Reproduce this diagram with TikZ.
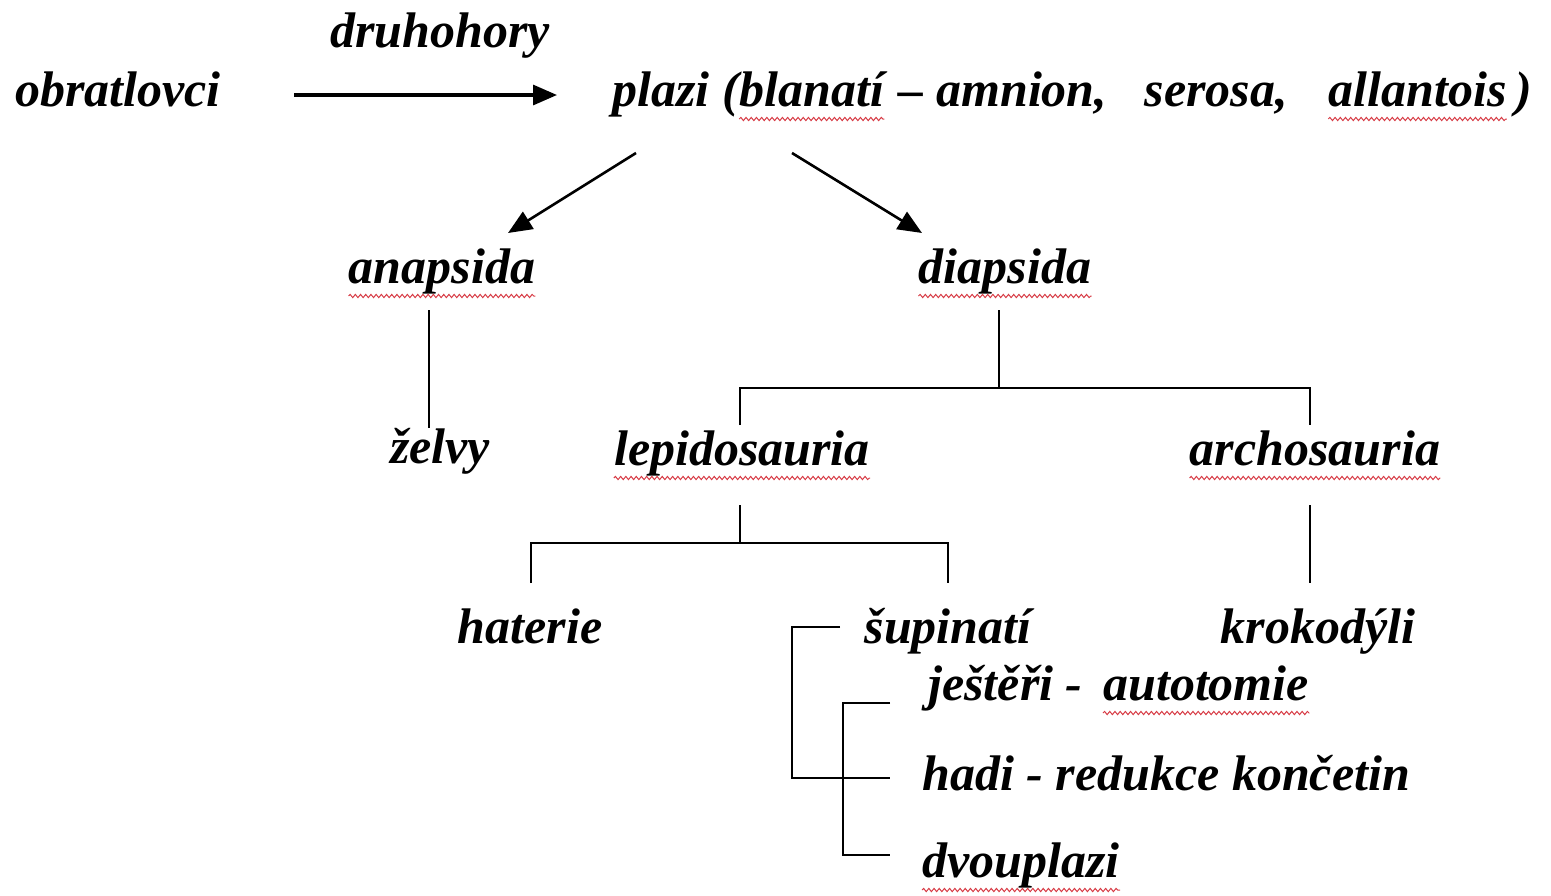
\documentclass[tikz,border=0pt]{standalone}
\usepackage{fontspec}
\setmainfont{Liberation Serif}
\usetikzlibrary{arrows.meta,decorations.pathmorphing}
\definecolor{spellred}{RGB}{215,60,70}
\begin{document}
\begin{tikzpicture}[x=0.5pt,y=-0.5pt,
    arr/.style={line width=1.6pt, -{Triangle[length=12pt,width=10pt]}},
    tree/.style={line width=1.2pt},
    spell/.style={draw=spellred, line width=0.5pt, decorate,
      decoration={snake, segment length=2.6pt, amplitude=0.8pt}}]
  \useasboundingbox (0,0) rectangle (1551,895);
  \begin{scope}[every node/.style={font=\fontsize{25}{30}\selectfont\bfseries\itshape, inner sep=0pt, anchor=base}]
    \node (obr) at (118,106) {obratlovci};
    \node (druh) at (440,47) {druhohory};
    \node[anchor=base west] (plazi) at (612,106) {plazi (};
    \node[anchor=base west] (blan) at (plazi.base east) {blanatí};
    \node[anchor=base west] (amn) at ([shift={(14,0)}]blan.base east) {– amnion,\ \ \ serosa,};
    \node[anchor=base west] (allan) at ([shift={(40,0)}]amn.base east) {allantois};
    \node[anchor=base west] (zav) at ([shift={(8,0)}]allan.base east) {)};
    \node (anap) at (442,283) {anapsida};
    \node (diap) at (1005,283) {diapsida};
    \node (zel) at (440,463) {želvy};
    \node (lepi) at (742,465) {lepidosauria};
    \node (arch) at (1315,465) {archosauria};
    \node (hat) at (530,643) {haterie};
    \node (sup) at (948,643) {šupinatí};
    \node (krok) at (1318,643) {krokodýli};
    \node[anchor=base west] (jest) at (928,700) {ještěři -};
    \node[anchor=base west] (auto) at ([shift={(20,0)}]jest.base east) {autotomie};
    \node[anchor=base west] (hadi) at (922,790) {hadi - redukce končetin};
    \node[anchor=base west] (dvou) at (922,877) {dvouplazi};
  \end{scope}
  \begin{scope}[every path/.style={spell}]
    \foreach \w in {blan,allan,anap,diap,lepi,arch,auto,dvou}
      \path ([shift={(0,13)}]\w.base west) -- ([shift={(0,13)}]\w.base east);
  \end{scope}
  \begin{scope}[every path/.style={arr}]
    \draw ([shift={(73,-11)}]obr.base east) -- ([shift={(-55,-11)}]plazi.base west);
    \draw[line width=1.3pt] ([shift={(24,47)}]plazi.base west) -- ([shift={(66,-50)}]anap.base);
    \draw[line width=1.3pt] ([shift={(180,47)}]plazi.base west) -- ([shift={(-83,-50)}]diap.base);
  \end{scope}
  \begin{scope}[every path/.style={tree}]
    \draw ([shift={(-13,27)}]anap.base) -- ([shift={(-11,-35)}]zel.base);
    \draw ([shift={(-6,27)}]diap.base) -- ++(0,78) coordinate (dj);
    \draw ([shift={(-2,-40)}]lepi.base) |- (dj) -| ([shift={(-5,-40)}]arch.base);
    \draw ([shift={(-2,40)}]lepi.base) -- ++(0,38) coordinate (lj);
    \draw ([shift={(1,-60)}]hat.base) |- (lj) -| ([shift={(0,-60)}]sup.base);
    \draw ([shift={(-5,40)}]arch.base) -- ([shift={(-8,-60)}]krok.base);
    \draw ([shift={(-24,-16)}]sup.base west) -- ++(-48,0) |- ([shift={(-32,-12)}]hadi.base west);
    \draw ([shift={(-38,3)}]jest.base west) -- ++(-47,0) |- ([shift={(-32,-22)}]dvou.base west);
  \end{scope}
\end{tikzpicture}
\end{document}
